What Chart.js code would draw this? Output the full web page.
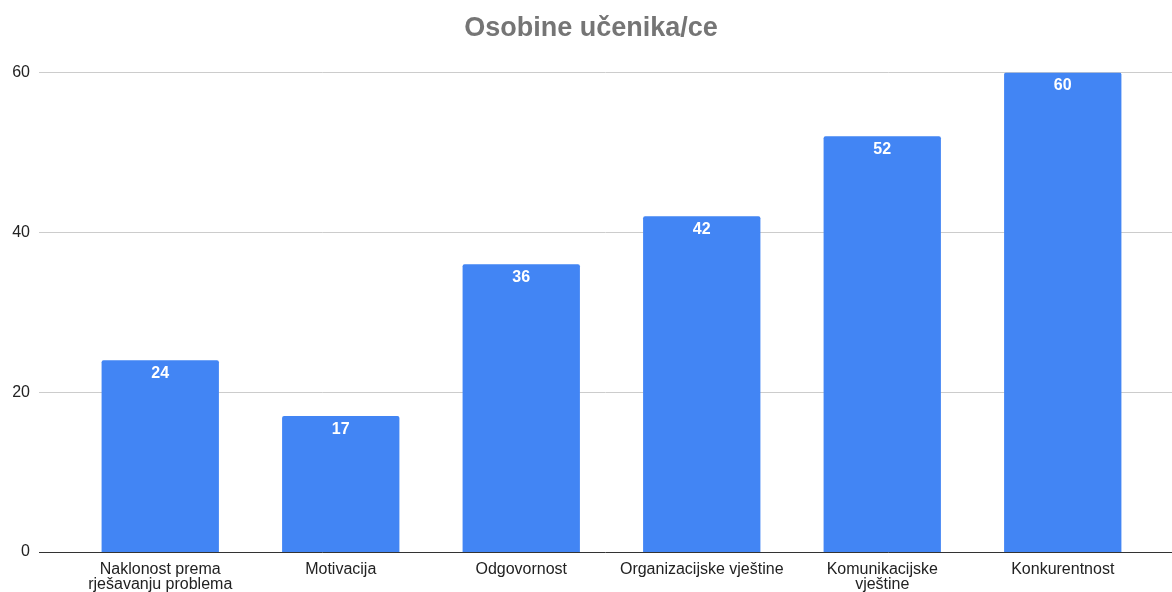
<!DOCTYPE html>
<html>
<head>
<meta charset="utf-8">
<script src="https://cdn.jsdelivr.net/npm/chart.js@4"></script>
<style>
  html, body { margin: 0; padding: 0; background: #fff; }
  #wrap { width: 1172px; height: 592px; position: relative; }
</style>
</head>
<body>
<div id="wrap"><canvas id="chart"></canvas></div>
<script>
const categories = [
  ['Naklonost prema', 'rješavanju problema'],
  'Motivacija',
  'Odgovornost',
  'Organizacijske vještine',
  ['Komunikacijske', 'vještine'],
  'Konkurentnost',
];
const values = [24, 17, 36, 42, 52, 60];
const yTicks = [0, 20, 40, 60];
const chartTitle = 'Osobine učenika/ce';

const FONT = 'Arial, "Liberation Sans", sans-serif';

// gridlines run wider than the bar area, like the original
const gridPlugin = {
  id: 'wideGrid',
  beforeDatasetsDraw(chart) {
    const { ctx } = chart;
    const y = chart.scales.y;
    ctx.save();
    yTicks.forEach((t) => {
      const py = Math.round(y.getPixelForValue(t)) + 0.5;
      ctx.strokeStyle = t === 0 ? '#333333' : '#cccccc';
      ctx.lineWidth = 1;
      ctx.beginPath();
      ctx.moveTo(39, py);
      ctx.lineTo(chart.width, py);
      ctx.stroke();
    });
    ctx.restore();
  },
};

// axis labels drawn by hand so they are not squeezed or clipped
const axisLabels = {
  id: 'axisLabels',
  afterDraw(chart) {
    const { ctx } = chart;
    const x = chart.scales.x;
    const y = chart.scales.y;
    ctx.save();
    ctx.fillStyle = '#222222';
    ctx.font = '16px ' + FONT;
    ctx.textAlign = 'right';
    ctx.textBaseline = 'middle';
    yTicks.forEach((t) => ctx.fillText(String(t), 30, y.getPixelForValue(t)));
    ctx.textAlign = 'center';
    ctx.textBaseline = 'alphabetic';
    const base = y.getPixelForValue(0);
    categories.forEach((c, i) => {
      const lines = Array.isArray(c) ? c : [c];
      const px = x.getPixelForValue(i);
      lines.forEach((ln, j) => ctx.fillText(ln, px, base + 22 + j * 15));
    });
    ctx.restore();
  },
};

const valueLabels = {
  id: 'valueLabels',
  afterDatasetsDraw(chart) {
    const { ctx } = chart;
    const meta = chart.getDatasetMeta(0);
    ctx.save();
    ctx.fillStyle = '#ffffff';
    ctx.font = 'bold 16px ' + FONT;
    ctx.textAlign = 'center';
    ctx.textBaseline = 'middle';
    meta.data.forEach((bar, i) => {
      ctx.fillText(values[i], bar.x, bar.y + 13);
    });
    ctx.restore();
  },
};

new Chart(document.getElementById('chart'), {
  type: 'bar',
  data: {
    labels: categories,
    datasets: [{
      data: values,
      backgroundColor: '#4285f4',
      borderRadius: 2,
      borderSkipped: 'bottom',
      categoryPercentage: 1,
      barPercentage: 0.65,
    }],
  },
  options: {
    responsive: true,
    maintainAspectRatio: false,
    animation: false,
    layout: { padding: { left: 29, right: 19, top: 0, bottom: 0 } },
    plugins: {
      legend: { display: false },
      tooltip: { enabled: false },
      title: {
        display: true,
        text: chartTitle,
        color: '#757575',
        font: { family: FONT, size: 27, weight: 'bold' },
        padding: { top: 12, bottom: 28 },
      },
    },
    scales: {
      x: {
        afterFit(scale) { scale.height = 40; },
        grid: { display: false },
        border: { display: false },
        ticks: { display: false },
      },
      y: {
        min: 0,
        max: 60,
        afterFit(scale) { scale.width = 41; },
        afterBuildTicks(scale) { scale.ticks = yTicks.map((v) => ({ value: v })); },
        grid: { display: false, drawTicks: false },
        border: { display: false },
        ticks: { display: false },
      },
    },
  },
  plugins: [gridPlugin, valueLabels, axisLabels],
});
</script>
</body>
</html>
